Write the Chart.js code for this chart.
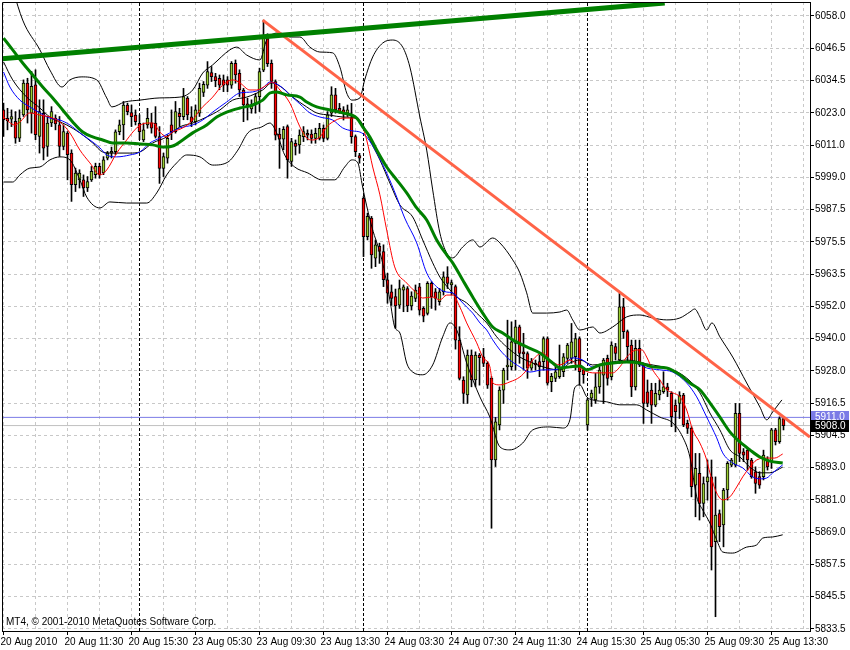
<!DOCTYPE html>
<html><head><meta charset="utf-8">
<script src="https://cdn.jsdelivr.net/npm/chart.js@4.4.0/dist/chart.umd.min.js"></script>
<style>html,body{margin:0;padding:0;background:#fff;overflow:hidden}</style>
</head><body>
<canvas id="c" width="850" height="650"></canvas>
<script>
// ---------- DATA ----------
const opens  = [6023.6,6020.5,6020.2,6019.4,6013.3,6021.8,6033.4,6022.4,6032.8,6013.9,6022.4,6010.2,6018.8,6020.6,6018.1,6010.2,6015.1,6007.8,5996.2,5998.0,5998.0,5995.0,5998.0,5999.9,6002.9,6000.5,6005.9,6007.8,6008.3,6015.6,6018.1,6025.4,6022.6,6021.7,6018.7,6012.6,6018.1,6018.9,6018.8,6013.8,6002.2,6005.9,6018.1,6015.6,6022.4,6021.1,6027.9,6021.1,6019.3,6022.4,6030.0,6032.7,6037.3,6035.8,6035.2,6034.6,6034.6,6032.7,6040.7,6037.0,6030.9,6025.8,6024.0,6025.4,6028.5,6038.2,6050.5,6040.7,6034.0,6014.8,6012.9,6017.5,6004.7,6011.4,6010.8,6013.8,6015.0,6014.8,6013.2,6013.2,6016.9,6013.2,6022.4,6029.1,6024.2,6023.6,6022.4,6020.5,6013.8,6006.9,5991.3,5977.2,5984.0,5969.3,5973.6,5971.7,5961.4,5957.0,5955.2,5952.1,5957.6,5958.2,5951.8,5954.6,5958.8,5950.9,5949.1,5960.1,5957.0,5953.4,5957.0,5962.5,5959.5,5958.9,5939.3,5924.7,5919.2,5933.8,5924.7,5933.8,5933.2,5930.8,5925.3,5895.4,5908.2,5921.0,5929.5,5929.6,5938.1,5944.2,5935.0,5934.4,5929.0,5930.8,5931.4,5931.4,5939.9,5924.1,5925.3,5925.9,5927.7,5932.6,5932.6,5933.2,5939.9,5928.3,5908.2,5918.0,5917.4,5922.2,5926.5,5932.6,5925.9,5936.9,5932.0,5951.5,5942.4,5937.5,5922.2,5936.3,5930.2,5920.4,5921.0,5915.5,5919.2,5920.4,5922.2,5919.8,5915.5,5916.1,5919.2,5908.8,5907.0,5886.2,5890.5,5879.5,5887.4,5889.2,5865.5,5875.8,5871.6,5884.4,5893.5,5893.5,5912.5,5898.4,5899.0,5895.4,5891.1,5889.3,5889.3,5895.4,5894.8,5906.4,5902.1,5910.6];
const highs  = [6026.1,6024.2,6023.6,6023.0,6023.6,6034.6,6035.2,6037.7,6038.3,6027.3,6027.3,6021.2,6024.8,6021.8,6021.2,6018.1,6015.7,6009.0,6002.3,6001.7,5999.8,5999.2,6002.9,6004.1,6004.1,6006.5,6008.4,6010.0,6016.3,6019.9,6026.7,6026.1,6025.4,6023.6,6021.8,6018.8,6024.2,6022.4,6024.8,6017.5,6007.8,6014.5,6023.6,6026.7,6024.2,6031.5,6028.5,6024.8,6025.4,6033.4,6034.0,6041.3,6039.5,6037.0,6036.4,6036.4,6035.8,6041.3,6041.9,6038.3,6031.5,6027.9,6027.3,6029.7,6038.9,6056.5,6051.5,6041.9,6034.6,6016.9,6017.5,6018.1,6013.2,6012.6,6016.3,6017.5,6016.3,6016.3,6016.9,6018.7,6018.1,6023.0,6032.1,6031.5,6026.0,6024.8,6025.4,6026.0,6014.4,6007.7,5991.9,5985.8,5984.6,5976.0,5974.8,5974.2,5963.8,5959.5,5958.0,5961.3,5959.5,5958.9,5957.0,5959.5,5960.1,5951.5,5960.7,5960.7,5958.2,5958.2,5964.3,5966.2,5961.3,5959.5,5944.2,5925.9,5935.7,5935.7,5935.0,5934.4,5936.3,5931.4,5925.9,5911.0,5922.2,5929.0,5946.6,5946.0,5946.6,5944.8,5941.8,5935.0,5932.6,5932.0,5933.8,5940.5,5940.5,5927.1,5929.6,5937.5,5934.4,5938.1,5945.4,5941.8,5940.5,5929.0,5918.0,5921.0,5927.1,5929.6,5932.6,5933.8,5938.7,5938.1,5956.4,5954.6,5943.0,5939.3,5939.3,5939.3,5930.8,5924.7,5923.5,5923.5,5924.7,5927.7,5923.5,5920.4,5917.4,5920.4,5919.8,5910.0,5907.6,5897.8,5897.8,5889.2,5895.4,5895.4,5889.2,5877.1,5885.0,5894.8,5896.0,5916.1,5916.1,5899.6,5899.6,5896.0,5892.9,5891.1,5899.0,5896.6,5907.0,5907.0,5911.2,5911.2];
const lows   = [6013.9,6016.3,6017.5,6011.4,6012.0,6021.2,6018.8,6015.1,6012.7,6007.8,6005.3,6006.6,6017.5,6016.3,6006.6,6009.0,5998.0,5990.1,5993.7,5995.0,5991.9,5993.7,5997.4,5998.6,5998.6,5999.9,6005.3,6006.0,6007.2,6014.5,6012.7,6021.8,6017.5,6018.1,6012.7,6012.0,6016.9,6015.1,6013.3,5996.7,5999.2,6004.1,6012.7,6015.1,6017.5,6020.0,6020.0,6017.5,6018.1,6021.2,6028.5,6031.5,6034.0,6032.1,6031.0,6030.3,6030.3,6031.5,6033.4,6028.5,6019.3,6019.9,6022.4,6022.4,6023.0,6037.6,6039.5,6031.5,6012.6,6002.2,6009.0,5998.6,6002.9,6007.1,6007.7,6012.0,6012.6,6011.4,6011.4,6012.6,6012.0,6012.6,6021.2,6022.4,6022.4,6019.9,6021.2,6011.4,6006.5,6004.1,5969.9,5976.0,5965.6,5966.2,5967.4,5958.9,5952.8,5952.0,5943.6,5950.9,5949.7,5949.7,5950.3,5953.4,5948.5,5946.0,5948.5,5950.9,5950.3,5952.1,5955.8,5958.2,5955.8,5936.0,5924.7,5916.1,5916.1,5922.2,5922.2,5922.8,5929.6,5921.6,5870.4,5893.0,5906.4,5916.1,5924.7,5928.3,5928.3,5930.8,5928.3,5925.3,5928.3,5928.3,5925.9,5928.3,5922.8,5920.4,5924.1,5925.3,5925.9,5930.8,5930.8,5928.3,5922.8,5923.5,5906.4,5915.0,5916.1,5919.8,5916.1,5922.8,5924.7,5932.0,5930.8,5939.9,5931.4,5918.6,5921.0,5929.6,5908.8,5914.9,5908.8,5914.9,5917.4,5919.8,5918.6,5907.6,5905.7,5910.6,5907.6,5905.1,5881.9,5874.6,5873.4,5874.6,5880.7,5855.1,5838.0,5865.5,5863.6,5880.7,5892.9,5892.9,5894.8,5894.8,5891.7,5888.7,5883.2,5885.0,5888.1,5891.7,5892.3,5900.9,5901.5,5906.4];
const closes = [6020.0,6019.7,6021.2,6013.3,6020.6,6033.4,6023.6,6032.2,6014.5,6023.0,6009.6,6018.8,6023.0,6018.5,6010.2,6015.7,6007.2,5996.2,6000.5,6000.5,5995.0,5997.4,6001.1,6002.9,5999.9,6005.3,6007.8,6008.4,6015.6,6018.1,6025.4,6023.0,6021.1,6019.3,6015.6,6016.3,6020.5,6016.9,6013.9,6002.2,6006.5,6013.2,6015.6,6023.0,6021.1,6028.5,6021.8,6019.3,6023.6,6031.5,6033.0,6037.6,6035.8,6034.3,6032.7,6032.7,6032.7,6040.7,6036.4,6030.9,6025.4,6024.8,6025.4,6028.5,6037.6,6050.5,6040.5,6034.0,6014.4,6012.9,6016.5,6005.3,6012.0,6010.2,6014.4,6015.7,6014.4,6013.2,6015.0,6016.9,6013.2,6021.8,6029.1,6023.6,6023.0,6022.4,6023.6,6013.8,6008.3,6005.9,5977.2,5984.6,5970.5,5974.2,5971.8,5961.4,5956.5,5954.6,5951.8,5958.2,5958.8,5951.8,5955.4,5957.6,5950.3,5948.1,5960.1,5955.2,5954.6,5957.0,5962.5,5960.1,5960.4,5939.3,5925.3,5919.8,5933.8,5924.7,5933.8,5932.9,5930.8,5922.8,5895.4,5909.4,5921.0,5928.3,5930.2,5938.7,5944.2,5934.4,5934.2,5929.0,5931.4,5930.2,5929.6,5939.9,5923.5,5926.0,5927.7,5929.0,5933.2,5937.5,5938.7,5939.9,5927.7,5926.6,5917.4,5919.9,5922.2,5928.3,5932.0,5925.3,5937.5,5934.4,5951.5,5942.4,5936.9,5922.2,5936.3,5930.2,5916.1,5916.1,5915.5,5919.8,5921.0,5922.2,5921.0,5911.3,5913.1,5919.2,5908.2,5907.0,5885.6,5892.3,5879.5,5886.8,5889.2,5863.6,5875.2,5871.0,5884.4,5894.2,5895.4,5912.5,5897.8,5897.2,5895.4,5889.3,5886.8,5886.2,5897.2,5892.9,5906.4,5902.1,5910.6,5908.0];

const timeLabels = ['20 Aug 2010','20 Aug 11:30','20 Aug 15:30','23 Aug 05:30','23 Aug 09:30','23 Aug 13:30','24 Aug 03:30','24 Aug 07:30','24 Aug 11:30','24 Aug 15:30','25 Aug 05:30','25 Aug 09:30','25 Aug 13:30'];
const priceTicks = ['6058.0','6046.5','6034.5','6023.0','6011.0','5999.0','5987.5','5975.5','5963.5','5952.0','5940.0','5928.0','5916.5','5904.5','5893.0','5881.0','5869.0','5857.5','5845.5','5833.5'];

// indicator lines: [bar, price]
const bbUpper = [[0,6080],[4.8,6056.5],[9.1,6045.6],[11.6,6038.2],[14.6,6032.0],[16.6,6034.6],[19.6,6035.7],[23.3,6034.6],[25.8,6028.0],[27.1,6024.7],[30.3,6026.5],[34.1,6027.2],[39.1,6028.0],[44.1,6028.3],[47.3,6030.9],[49.8,6037.1],[52.3,6040.1],[56.6,6045.6],[58.3,6046.6],[60.8,6043.7],[64.1,6041.9],[65.8,6049.2],[69.1,6051.8],[71.6,6050.3],[74.1,6050.3],[76.6,6046.6],[79.1,6044.8],[82.3,6044.5],[84.1,6039.3],[85.8,6029.8],[87.1,6027.2],[89.1,6028.0],[90.3,6034.6],[92.3,6043.0],[94.8,6048.1],[97.3,6049.2],[99.8,6046.6],[101.6,6039.3],[104.1,6021.0],[105.8,6008.9],[107.3,5994.3],[109.1,5978.5],[110.8,5971.2],[112.3,5969.4],[114.8,5973.4],[117.3,5976.0],[119.1,5973.4],[122.3,5976.7],[124.1,5974.9],[127.3,5968.7],[129.1,5963.9],[130.8,5956.6],[132.3,5949.2],[135.8,5949.2],[139.1,5949.6],[140.8,5950.3],[142.3,5946.7],[144.1,5943.0],[147.3,5944.1],[149.1,5941.9],[152.3,5944.1],[155.8,5947.8],[159.1,5948.5],[162.3,5947.4],[165.8,5946.7],[169.1,5947.4],[171.6,5949.6],[172.8,5950.7],[174.1,5947.8],[175.8,5943.0],[177.1,5945.6],[179.1,5940.5],[182.3,5933.1],[185.8,5923.6],[189.1,5914.8],[190.8,5910.1],[192.3,5913.0],[194.6,5917.4]];
const bbLower = [[0,5997.2],[2.3,5997.2],[4.1,5999.8],[6.6,6002.3],[9.1,6002.7],[11.6,6005.3],[14.1,6006.4],[16.6,6005.3],[19.1,5998.0],[20.8,5991.7],[24.1,5987.7],[26.6,5989.9],[30.8,5989.5],[35.8,5989.5],[38.3,5993.2],[40.8,5999.8],[43.3,6004.2],[45.8,6007.1],[49.1,6006.4],[52.3,6003.4],[56.1,6004.5],[58.6,6008.9],[61.1,6015.2],[64.6,6017.4],[66.6,6018.8],[68.3,6015.2],[70.3,6007.1],[72.8,6002.7],[76.1,6000.5],[79.6,5998.0],[82.8,5998.0],[85.3,6002.7],[87.1,6005.3],[88.6,6004.2],[89.6,5996.8],[90.3,5991.7],[92.1,5980.7],[94.6,5968.7],[96.6,5954.0],[97.8,5944.1],[99.1,5941.9],[100.8,5930.9],[102.3,5927.6],[104.8,5926.6],[107.3,5930.2],[109.8,5940.5],[111.6,5945.6],[113.3,5943.0],[115.8,5930.9],[119.1,5918.5],[121.6,5911.1],[124.1,5900.2],[126.6,5899.1],[129.8,5901.6],[132.3,5906.4],[136.6,5907.5],[139.8,5907.1],[141.6,5910.1],[142.8,5921.8],[144.1,5922.9],[145.8,5918.5],[147.3,5917.4],[150.8,5916.7],[154.1,5915.6],[158.3,5915.6],[160.8,5913.7],[164.1,5911.1],[167.3,5909.0],[169.8,5903.8],[171.6,5896.5],[173.3,5881.9],[174.8,5877.1],[176.6,5872.3],[178.3,5866.1],[179.8,5861.7],[182.3,5861.3],[185.8,5863.5],[188.3,5864.3],[189.8,5866.8],[192.3,5867.2],[194.8,5868.0]];
const maFast = [[0,6021.0],[2.8,6018.1],[4.1,6019.2],[6.6,6022.5],[9.1,6021.7],[11.6,6021.0],[14.1,6019.2],[16.6,6015.2],[19.1,6008.9],[21.6,6004.2],[24.1,5999.8],[25.8,6001.6],[28.3,6007.8],[30.8,6012.6],[33.3,6017.0],[35.8,6018.8],[37.3,6018.8],[39.1,6015.5],[40.8,6013.7],[42.3,6015.5],[44.8,6017.0],[47.3,6019.9],[49.1,6023.6],[52.3,6028.3],[54.8,6032.7],[57.3,6034.6],[59.1,6033.5],[61.6,6030.9],[63.3,6030.9],[65.8,6032.7],[67.1,6033.8],[69.1,6030.9],[71.6,6026.1],[74.1,6017.4],[75.8,6013.3],[77.3,6012.6],[79.1,6013.7],[80.8,6017.4],[82.3,6019.2],[84.8,6020.6],[88.3,6020.6],[89.6,6018.1],[90.8,6012.6],[92.3,6002.7],[94.1,5992.5],[95.8,5979.6],[97.8,5966.1],[100.8,5960.2],[103.3,5956.6],[104.8,5954.7],[107.3,5955.1],[109.1,5954.0],[110.8,5955.8],[112.3,5955.8],[114.1,5951.4],[115.8,5945.6],[118.3,5938.3],[119.8,5933.1],[121.6,5929.5],[122.3,5923.6],[124.1,5922.9],[126.6,5924.0],[129.1,5925.8],[130.8,5928.4],[132.3,5932.0],[134.8,5934.6],[136.6,5932.0],[139.1,5930.2],[141.6,5932.0],[144.1,5929.1],[147.3,5927.3],[152.3,5927.3],[154.1,5929.5],[155.8,5933.1],[158.3,5935.7],[159.6,5935.7],[160.8,5933.1],[162.3,5928.4],[164.1,5924.7],[165.8,5921.1],[167.3,5920.0],[169.1,5918.5],[170.8,5913.7],[172.3,5906.4],[174.1,5901.6],[175.8,5895.4],[176.6,5890.7],[178.3,5883.3],[179.8,5880.8],[181.6,5881.9],[183.3,5885.5],[184.8,5889.2],[186.6,5892.8],[188.3,5895.4],[190.8,5896.1],[192.8,5896.1],[194.8,5897.6]];
const maBlue = [[0,6037.5],[1.6,6032.0],[4.1,6027.2],[6.6,6024.7],[9.1,6022.5],[11.6,6020.6],[14.1,6019.9],[16.6,6018.1],[19.1,6015.2],[21.6,6012.6],[24.1,6009.7],[25.8,6007.1],[28.3,6006.4],[31.6,6007.1],[34.1,6008.2],[36.6,6011.5],[39.1,6013.3],[41.6,6015.2],[44.1,6017.0],[47.3,6018.1],[49.8,6019.9],[52.3,6022.8],[55.8,6026.5],[59.1,6029.8],[62.3,6030.2],[64.8,6031.6],[66.6,6033.8],[69.1,6032.4],[71.6,6029.1],[74.1,6025.8],[76.6,6022.5],[79.1,6021.0],[82.3,6019.9],[84.8,6017.0],[87.3,6015.9],[89.1,6015.5],[90.8,6013.7],[93.3,6007.8],[95.8,6000.5],[98.3,5991.7],[100.3,5984.0],[103.3,5974.9],[105.8,5963.9],[108.3,5958.8],[110.8,5956.9],[112.3,5956.6],[114.1,5954.0],[115.8,5951.4],[117.3,5949.2],[119.1,5945.6],[120.8,5943.0],[122.3,5939.4],[124.1,5935.7],[126.6,5932.0],[129.1,5929.5],[131.6,5927.6],[134.8,5928.4],[137.3,5928.4],[139.8,5929.5],[142.3,5932.8],[144.8,5932.0],[147.3,5929.5],[149.8,5930.2],[152.3,5930.9],[155.8,5931.3],[158.3,5930.9],[160.8,5929.1],[164.1,5928.4],[167.3,5927.6],[170.8,5923.6],[173.3,5918.5],[175.8,5911.1],[178.3,5903.5],[179.8,5898.0],[182.3,5894.3],[184.8,5892.5],[187.3,5889.2],[189.1,5888.5],[190.8,5888.8],[192.3,5890.7],[194.8,5893.6]];
const maBlack = [[0,6041.2],[2.3,6034.6],[5.8,6028.3],[9.1,6024.3],[11.6,6021.0],[15.8,6018.1],[19.1,6015.2],[22.3,6011.5],[24.8,6008.2],[27.3,6007.8],[31.6,6007.8],[34.1,6008.2],[37.3,6011.5],[40.8,6013.7],[44.1,6017.4],[47.3,6018.8],[50.8,6021.0],[54.1,6023.6],[57.3,6027.2],[60.8,6028.3],[64.8,6030.9],[67.1,6033.5],[69.8,6031.6],[72.3,6028.3],[75.8,6024.7],[78.3,6022.5],[81.6,6021.7],[84.8,6021.0],[88.3,6020.6],[89.6,6018.8],[91.6,6012.6],[94.1,6005.3],[96.6,5996.8],[99.1,5988.8],[102.3,5984.4],[104.8,5976.0],[107.3,5967.6],[109.1,5962.4],[111.6,5957.7],[113.3,5955.1],[115.8,5952.9],[118.3,5949.2],[120.8,5945.6],[123.3,5940.5],[125.8,5936.8],[129.1,5933.1],[132.3,5930.9],[135.8,5929.1],[139.1,5928.4],[141.6,5930.9],[144.1,5932.0],[147.3,5930.2],[152.3,5931.3],[155.8,5932.0],[160.8,5930.6],[167.3,5928.4],[170.8,5925.4],[174.1,5920.0],[176.6,5912.6],[179.1,5906.4],[181.6,5899.1],[184.1,5896.5],[186.6,5892.8],[189.1,5890.7],[191.6,5890.7],[194.8,5892.8]];
const maGreen = [[0,6049.9],[2.3,6045.6],[4.8,6040.8],[7.3,6036.4],[9.8,6032.0],[12.3,6028.0],[14.8,6023.6],[17.3,6019.2],[19.8,6015.5],[22.3,6013.7],[24.8,6012.6],[27.3,6011.5],[30.8,6011.5],[34.1,6011.1],[37.3,6010.8],[39.8,6010.0],[42.3,6010.4],[44.8,6012.6],[47.3,6015.2],[50.8,6018.1],[53.3,6021.0],[55.8,6022.8],[59.1,6024.3],[62.3,6025.4],[64.8,6027.2],[66.6,6029.8],[68.3,6030.2],[70.8,6029.1],[74.1,6028.3],[75.8,6026.5],[78.3,6024.7],[81.6,6023.6],[84.8,6022.5],[88.3,6020.6],[89.8,6017.4],[91.6,6013.7],[93.3,6008.9],[95.8,6002.7],[98.3,5998.0],[100.8,5993.2],[103.3,5987.7],[105.8,5983.3],[108.3,5976.0],[110.8,5970.5],[112.3,5967.6],[114.8,5961.3],[117.3,5955.1],[119.8,5949.2],[122.3,5944.1],[124.8,5941.9],[127.3,5939.4],[130.8,5936.8],[134.1,5934.6],[137.3,5930.9],[139.1,5929.1],[141.6,5929.5],[144.1,5929.8],[145.8,5928.4],[149.1,5930.2],[152.3,5930.9],[155.8,5931.3],[159.1,5930.9],[162.3,5929.5],[165.8,5929.1],[169.1,5926.6],[171.6,5923.6],[174.1,5921.1],[176.6,5916.3],[179.1,5911.1],[181.6,5905.7],[184.1,5902.0],[186.6,5899.1],[189.1,5896.5],[191.6,5895.0],[194.8,5894.3]];
const trendGreen = [[-0.4,6042.3],[165.3,6062.8]];
const trendRed = [[64.8,6056.5],[201.6,5903.8]];
const priceLines = [5911.0, 5908.0];
const daySeparators = [34, 90, 146];
const copyright = 'MT4, \u00a9 2001-2010 MetaQuotes Software Corp.';

// ---------- CHART ----------
const FONT = 'Liberation Sans';
const pts = a => a.map(([x, y]) => ({x, y}));
const bars = opens.map((_, i) => i);
const X_MIN = -0.375, X_MAX = X_MIN + 202;
const TOP_P = parseFloat(priceTicks[0]), BOT_P = parseFloat(priceTicks[priceTicks.length - 1]);
const STEP = (TOP_P - BOT_P) / (priceTicks.length - 1);
const Y_MAX = TOP_P + 14 / 2.7305, Y_MIN = Y_MAX - 629 / 2.7305;

const lineDs = (data, color, width, order, extra) => Object.assign({
  type: 'line', data: pts(data), borderColor: color, borderWidth: width,
  pointRadius: 0, fill: false, order, cubicInterpolationMode: 'monotone'
}, extra || {});

const datasets = [
  lineDs(trendGreen, '#008000', 5, 0, {cubicInterpolationMode: 'default'}),
  lineDs(trendRed, '#ff6347', 3, 0, {cubicInterpolationMode: 'default'}),
  lineDs(maGreen, '#008000', 3, 1),
  lineDs(maFast, '#ff0000', 1, 2),
  lineDs(maBlue, '#0000ff', 1, 2),
  lineDs(maBlack, '#000000', 1, 2),
  lineDs(bbUpper, '#000000', 1, 3),
  lineDs(bbLower, '#000000', 1, 3),
  {
    type: 'bar', order: 4, grouped: false, barThickness: 3, minBarLength: 1,
    data: bars.map(i => ({x: i, y: [opens[i], closes[i]]})),
    backgroundColor: bars.map(i => closes[i] >= opens[i] ? '#9acd32' : '#ff0000'),
    borderColor: '#000', borderWidth: 1, borderSkipped: false
  },
  {
    type: 'bar', order: 5, grouped: false, barThickness: 1,
    data: bars.map(i => ({x: i, y: [lows[i], highs[i]]})),
    backgroundColor: '#000', borderWidth: 0
  },
  ...priceLines.map((p, k) => lineDs([[X_MIN, p], [X_MAX, p]], k === 0 ? '#7b7be6' : '#c0c0c0', 1, 6, {cubicInterpolationMode: 'default'})),
  ...daySeparators.map(b => lineDs([[b, Y_MIN], [b, Y_MAX]], '#000000', 1, 7, {cubicInterpolationMode: 'default', borderDash: [3, 2]}))
];

const decor = {
  id: 'decor',
  afterDraw(chart) {
    const {ctx, chartArea: a, scales: {y}} = chart;
    ctx.save();
    ctx.strokeStyle = '#000'; ctx.lineWidth = 1;
    ctx.beginPath();
    ctx.moveTo(a.left + 0.5, a.bottom); ctx.lineTo(a.left + 0.5, a.top + 0.5); ctx.lineTo(a.right, a.top + 0.5);
    ctx.stroke();
    ctx.font = '10px "' + FONT + '"';
    ctx.textBaseline = 'middle'; ctx.textAlign = 'left';
    ctx.fillStyle = '#000';
    ctx.fillText(copyright, a.left + 4, 622);
    const boxes = [['#7b7be6', '#ffffff'], ['#000000', '#ffffff']];
    priceLines.forEach((p, k) => {
      const py = Math.round(y.getPixelForValue(p));
      ctx.fillStyle = boxes[k][0];
      ctx.fillRect(a.right + 1, py - 6, 38, 12);
      ctx.fillStyle = boxes[k][1];
      ctx.fillText(p.toFixed(1), a.right + 5, py + 0.5);
    });
    ctx.restore();
  }
};

new Chart(document.getElementById('c'), {
  type: 'line',
  data: {datasets},
  plugins: [decor],
  options: {
    responsive: false, animation: false, devicePixelRatio: 1,
    layout: {padding: {left: 2, top: 2, right: 0, bottom: 0}},
    plugins: {legend: {display: false}, tooltip: {enabled: false}, title: {display: false}},
    scales: {
      x: {
        type: 'linear', min: X_MIN, max: X_MAX, offset: false,
        afterBuildTicks: s => { s.ticks = []; for (let v = 0; v <= 200; v += 8) s.ticks.push({value: v}); },
        afterFit: s => { s.height = 19; s.paddingLeft = 0; s.paddingRight = 0; },
        grid: {color: '#c8c8c8', offset: false, drawTicks: true, tickLength: 4,
               tickColor: c => (c.tick && c.tick.value % 16 === 0) ? '#000' : 'rgba(0,0,0,0)'},
        border: {display: true, color: '#000', width: 1, dash: [3, 3]},
        ticks: {
          autoSkip: false, maxRotation: 0, minRotation: 0, align: 'start', padding: 1, labelOffset: -3,
          color: '#000', font: {family: FONT, size: 10},
          callback: v => v % 16 === 0 ? (timeLabels[v / 16] || '') : ''
        }
      },
      y: {
        type: 'linear', position: 'right', min: Y_MIN, max: Y_MAX,
        afterBuildTicks: s => { s.ticks = priceTicks.map((_, k) => ({value: TOP_P - k * STEP})); },
        afterFit: s => { s.width = 40; s.paddingTop = 0; s.paddingBottom = 0; },
        grid: {color: '#c8c8c8', drawTicks: true, tickLength: 4, tickColor: '#000'},
        border: {display: true, color: '#000', width: 1, dash: [3, 3]},
        ticks: {
          color: '#000', padding: 1, font: {family: FONT, size: 10},
          callback: (v, i) => priceTicks[i]
        }
      }
    }
  }
});
</script>
</body></html>
